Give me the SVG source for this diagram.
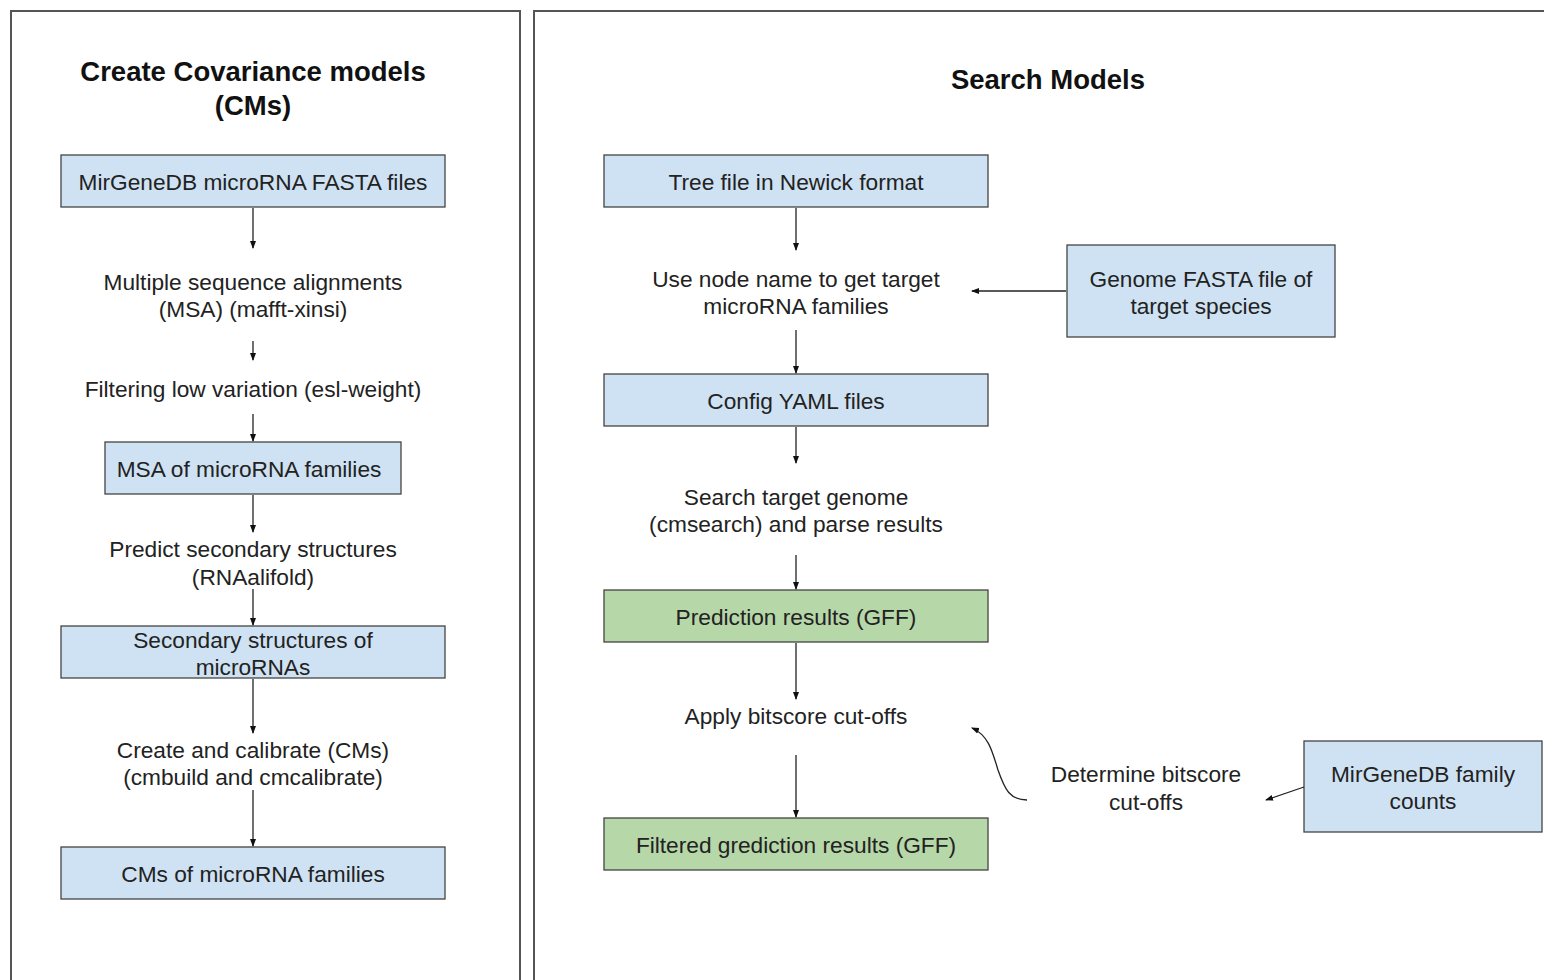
<svg xmlns="http://www.w3.org/2000/svg" width="1545" height="980" viewBox="0 0 1545 980">
<defs>
<style>
.t{font-family:"Liberation Sans",Arial,sans-serif;font-size:22.7px;fill:#222;text-anchor:middle}
.h{font-family:"Liberation Sans",Arial,sans-serif;font-size:27.5px;font-weight:bold;fill:#111;text-anchor:middle}
.b{fill:#cfe2f3;stroke:#444;stroke-width:1.3}
.g{fill:#b6d7a8;stroke:#444;stroke-width:1.3}
.p{fill:none;stroke:#555;stroke-width:2}
.c{fill:none;stroke:#222;stroke-width:1.3}
</style>
<marker id="a" viewBox="0 0 8 8" refX="7" refY="4" markerWidth="8" markerHeight="8" markerUnits="userSpaceOnUse" orient="auto">
<path d="M0,1 L8,4 L0,7 Z" fill="#111"/>
</marker>
</defs>
<rect width="1545" height="980" fill="#fff"/>
<g id="panels">
<path class="p" d="M11,985 V11 H520 V985"/>
<path class="p" d="M534,985 V11 H1544"/>
</g>
<g id="titles">
<text class="h" x="253" y="81">Create Covariance models</text>
<text class="h" x="253" y="115">(CMs)</text>
<text class="h" x="1048" y="89">Search Models</text>
</g>
<g id="n1"><rect class="b" x="61" y="155" width="384" height="52"/><text class="t" x="253" y="190">MirGeneDB microRNA FASTA files</text></g>
<g id="n2"><text class="t" x="253" y="290">Multiple sequence alignments</text><text class="t" x="253" y="317">(MSA) (mafft-xinsi)</text></g>
<g id="n3"><text class="t" x="253" y="397">Filtering low variation (esl-weight)</text></g>
<g id="n4"><rect class="b" x="105" y="442" width="296" height="52"/><text class="t" x="249" y="477">MSA of microRNA families</text></g>
<g id="n5"><text class="t" x="253" y="557">Predict secondary structures</text><text class="t" x="253" y="585">(RNAalifold)</text></g>
<g id="n6"><rect class="b" x="61" y="626" width="384" height="52"/><text class="t" x="253" y="648">Secondary structures of</text><text class="t" x="253" y="675">microRNAs</text></g>
<g id="n7"><text class="t" x="253" y="758">Create and calibrate (CMs)</text><text class="t" x="253" y="785">(cmbuild and cmcalibrate)</text></g>
<g id="n8"><rect class="b" x="61" y="847" width="384" height="52"/><text class="t" x="253" y="882">CMs of microRNA families</text></g>
<g id="m1"><rect class="b" x="604" y="155" width="384" height="52"/><text class="t" x="796" y="190">Tree file in Newick format</text></g>
<g id="m2"><text class="t" x="796" y="287">Use node name to get target</text><text class="t" x="796" y="314">microRNA families</text></g>
<g id="m3"><rect class="b" x="1067" y="245" width="268" height="92"/><text class="t" x="1201" y="287">Genome FASTA file of</text><text class="t" x="1201" y="314">target species</text></g>
<g id="m4"><rect class="b" x="604" y="374" width="384" height="52"/><text class="t" x="796" y="409">Config YAML files</text></g>
<g id="m5"><text class="t" x="796" y="505">Search target genome</text><text class="t" x="796" y="532">(cmsearch) and parse results</text></g>
<g id="m6"><rect class="g" x="604" y="590" width="384" height="52"/><text class="t" x="796" y="625">Prediction results (GFF)</text></g>
<g id="m7"><text class="t" x="796" y="724">Apply bitscore cut-offs</text></g>
<g id="m8"><rect class="g" x="604" y="818" width="384" height="52"/><text class="t" x="796" y="853">Filtered grediction results (GFF)</text></g>
<g id="m9"><text class="t" x="1146" y="782">Determine bitscore</text><text class="t" x="1146" y="810">cut-offs</text></g>
<g id="m10"><rect class="b" x="1304" y="741" width="238" height="91"/><text class="t" x="1423" y="782">MirGeneDB family</text><text class="t" x="1423" y="809">counts</text></g>
<g id="connectors">
<line class="c" x1="253" y1="208" x2="253" y2="248" marker-end="url(#a)"/>
<line class="c" x1="253" y1="341" x2="253" y2="360" marker-end="url(#a)"/>
<line class="c" x1="253" y1="414" x2="253" y2="441" marker-end="url(#a)"/>
<line class="c" x1="253" y1="495" x2="253" y2="532" marker-end="url(#a)"/>
<line class="c" x1="253" y1="589" x2="253" y2="625" marker-end="url(#a)"/>
<line class="c" x1="253" y1="679" x2="253" y2="733" marker-end="url(#a)"/>
<line class="c" x1="253" y1="790" x2="253" y2="846" marker-end="url(#a)"/>
<line class="c" x1="796" y1="208" x2="796" y2="250" marker-end="url(#a)"/>
<line class="c" x1="1066" y1="291" x2="972" y2="291" marker-end="url(#a)"/>
<line class="c" x1="796" y1="330" x2="796" y2="373" marker-end="url(#a)"/>
<line class="c" x1="796" y1="427" x2="796" y2="463" marker-end="url(#a)"/>
<line class="c" x1="796" y1="555" x2="796" y2="589" marker-end="url(#a)"/>
<line class="c" x1="796" y1="643" x2="796" y2="699" marker-end="url(#a)"/>
<line class="c" x1="796" y1="755" x2="796" y2="817" marker-end="url(#a)"/>
<path class="c" d="M1027,800 C1010,800 1005,790 998,770 C992,750 988,735 972,728" marker-end="url(#a)"/>
<line class="c" x1="1304" y1="787" x2="1266" y2="800" marker-end="url(#a)"/>
</g>
</svg>
